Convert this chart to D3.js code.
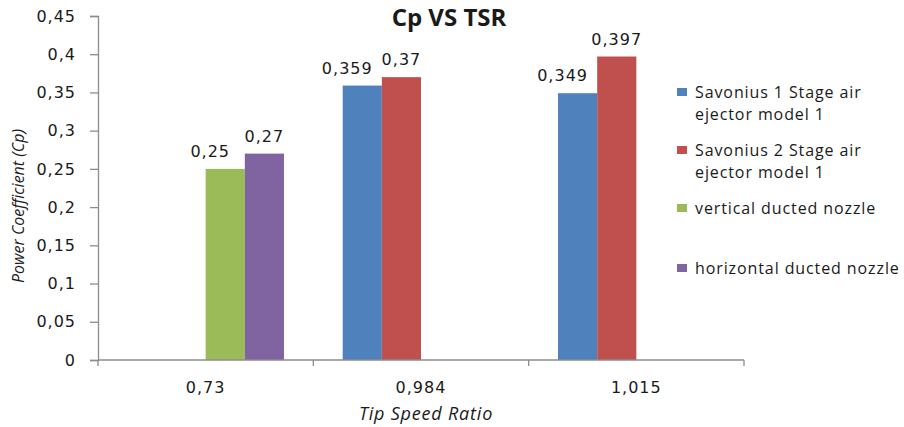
<!DOCTYPE html>
<html>
<head>
<meta charset="utf-8">
<script src="https://cdn.jsdelivr.net/npm/d3@7"></script>
<style>
  body { margin: 0; background: #fff; }
  text { fill: #1a1a1a; }
</style>
</head>
<body>
<div id="chart"></div>
<script>
// tip speed ratios (categories)
var tsr = [0.73, 0.984, 1.015];

// Cp per series, null where the series has no bar
var savonius1 = [null, 0.359, 0.349];
var savonius2 = [null, 0.37, 0.397];
var vertNozzle = [0.25, null, null];
var horizNozzle = [0.27, null, null];

var seriesNames = [
  ["Savonius 1 Stage air", "ejector model 1"],
  ["Savonius 2 Stage air", "ejector model 1"],
  ["vertical ducted nozzle"],
  ["horizontal ducted nozzle"]
];
var seriesColors = ["#4f81bd", "#c0504d", "#9bbb59", "#8064a2"];
var yTicks = [0, 0.05, 0.1, 0.15, 0.2, 0.25, 0.3, 0.35, 0.4, 0.45];

var series = [savonius1, savonius2, vertNozzle, horizNozzle];

var comma = function(v) { return String(v).replace(".", ","); };

var svg = d3.select("#chart").append("svg")
    .attr("width", 904)
    .attr("height", 427);

var margin = {top: 16, left: 98},
    width = 646,
    height = 344;

var g = svg.append("g")
    .attr("transform", "translate(" + margin.left + "," + margin.top + ")");

var x0 = d3.scaleBand()
    .domain(tsr)
    .range([0, width])
    .padding(0);

var x1 = d3.scaleBand()
    .domain(d3.range(series.length))
    .range([0, x0.bandwidth()])
    .paddingInner(0)
    .paddingOuter(0.75);

var y = d3.scaleLinear()
    .domain([0, 0.45])
    .range([height, 0]);

// bars
tsr.forEach(function(t, ci) {
  var present = series.map(function(s, si) { return s[ci] == null ? null : si; })
    .filter(function(d) { return d != null; });

  present.forEach(function(si, k) {
    var v = series[si][ci];
    var bx = x0(t) + x1(si);
    g.append("rect")
      .attr("x", bx)
      .attr("y", y(v))
      .attr("width", x1.bandwidth())
      .attr("height", height - y(v))
      .attr("fill", seriesColors[si]);

    g.append("text")
      .attr("x", bx + x1.bandwidth() / 2 + (k == 0 && present.length > 1 ? -15 : 0))
      .attr("y", y(v) - 12)
      .attr("text-anchor", "middle")
      .style("font-family", "DejaVu Sans")
      .style("font-size", "16px")
      .style("letter-spacing", "1px")
      .text(comma(v));
  });
});

// y axis
var yAxis = g.append("g")
    .call(d3.axisLeft(y).tickValues(yTicks).tickSize(8).tickPadding(14).tickFormat(comma));
yAxis.selectAll("line, path").attr("stroke", "#8c8c8c").attr("stroke-width", 1.3);
yAxis.selectAll("text")
    .style("font-family", "DejaVu Sans")
    .style("font-size", "16px")
    .style("letter-spacing", "1px")
    .attr("fill", "#1a1a1a");

// x axis, ticks at category boundaries
var xAxis = g.append("g")
    .attr("transform", "translate(0," + height + ")");
xAxis.append("line")
    .attr("x1", 0).attr("x2", width)
    .attr("stroke", "#8c8c8c").attr("stroke-width", 1.3);
xAxis.selectAll(".bt")
  .data(tsr.concat(["end"]))
  .enter().append("line")
    .attr("x1", function(d, i) { return i * x0.step(); })
    .attr("x2", function(d, i) { return i * x0.step(); })
    .attr("y1", 0).attr("y2", 6)
    .attr("stroke", "#8c8c8c").attr("stroke-width", 1.3);
xAxis.selectAll(".lbl")
  .data(tsr)
  .enter().append("text")
    .attr("x", function(d) { return x0(d) + x0.bandwidth() / 2; })
    .attr("y", 33)
    .attr("text-anchor", "middle")
    .style("font-family", "DejaVu Sans")
    .style("font-size", "16px")
    .style("letter-spacing", "1px")
    .text(comma);

// titles
svg.append("text")
    .attr("x", 449).attr("y", 26)
    .attr("text-anchor", "middle")
    .style("font-family", "Open Sans")
    .style("font-weight", "bold")
    .style("font-size", "24px")
    .text("Cp VS TSR");

svg.append("text")
    .attr("x", 426).attr("y", 420)
    .attr("text-anchor", "middle")
    .style("font-family", "Open Sans")
    .style("font-style", "italic")
    .style("font-size", "18px")
    .style("letter-spacing", "0.8px")
    .text("Tip Speed Ratio");

svg.append("text")
    .attr("transform", "translate(24,206) rotate(-90)")
    .attr("text-anchor", "middle")
    .style("font-family", "Open Sans")
    .style("font-style", "italic")
    .style("font-size", "16px")
    .text("Power Coefficient (Cp)");

// legend
var legendY = [92, 150, 208, 268];
var legend = svg.append("g");
seriesNames.forEach(function(lines, i) {
  legend.append("rect")
    .attr("x", 677).attr("y", legendY[i] - 4)
    .attr("width", 10).attr("height", 8)
    .attr("fill", seriesColors[i]);
  lines.forEach(function(l, j) {
    legend.append("text")
      .attr("x", 695).attr("y", legendY[i] + 6 + j * 22)
      .style("font-family", "Open Sans")
      .style("font-size", "16px")
      .style("letter-spacing", "0.9px")
      .text(l);
  });
});
</script>
</body>
</html>
